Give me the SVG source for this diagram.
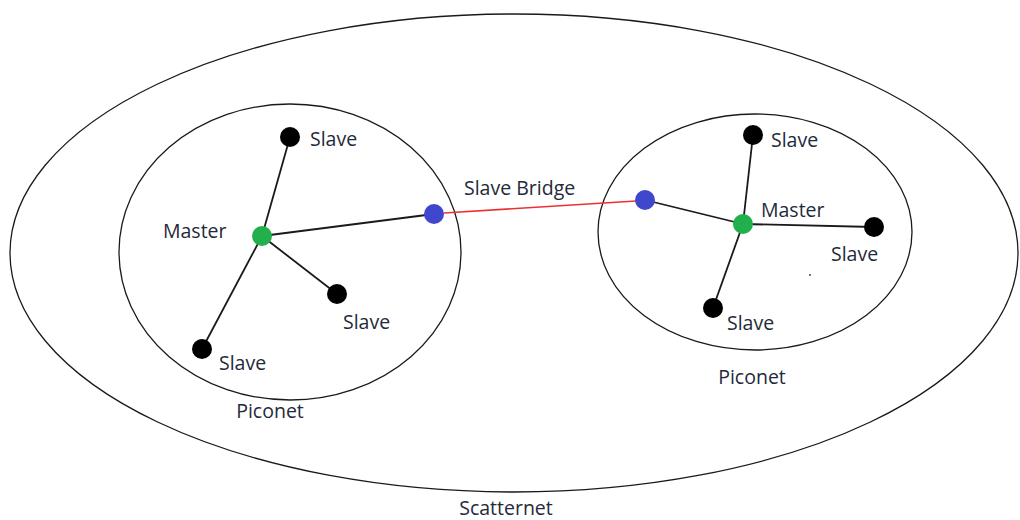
<svg xmlns="http://www.w3.org/2000/svg" width="1020" height="520" viewBox="0 0 1020 520">
<style>
.ring{fill:none;stroke:#1a1a1a;stroke-width:1.3}
.ln{stroke:#1a1a1a;stroke-width:1.8}
.br{stroke:#f03030;stroke-width:1.6}
.slave{fill:#000}
.master{fill:#22b04c}
.bridge{fill:#3f48cc}
text{font-family:"Open Sans","Liberation Sans",sans-serif;font-size:19.5px;fill:#1f2a3a}
</style>
<rect width="1020" height="520" fill="#fff"/>
<g id="scatternet">
<ellipse class="ring" cx="514" cy="253" rx="504" ry="239"/>
<text x="506" y="515" text-anchor="middle">Scatternet</text>
</g>
<g id="piconet-left">
<ellipse class="ring" cx="290" cy="252" rx="171" ry="148"/>
<text x="270" y="418" text-anchor="middle">Piconet</text>
</g>
<g id="piconet-right">
<ellipse class="ring" cx="755" cy="232" rx="157" ry="118"/>
<text x="752" y="384" text-anchor="middle">Piconet</text>
<circle cx="810" cy="275" r="0.9" fill="#333"/>
</g>
<g id="connectors">
<line class="ln" x1="262" y1="236" x2="290" y2="137"/>
<line class="ln" x1="262" y1="236" x2="434" y2="214"/>
<line class="ln" x1="262" y1="236" x2="337" y2="294"/>
<line class="ln" x1="262" y1="236" x2="202" y2="349"/>
<line class="br" x1="444" y1="213" x2="636" y2="201"/>
<line class="ln" x1="743" y1="224" x2="645" y2="200"/>
<line class="ln" x1="743" y1="224" x2="753" y2="135"/>
<line class="ln" x1="743" y1="224" x2="874" y2="227"/>
<line class="ln" x1="743" y1="224" x2="713" y2="308"/>
</g>
<g id="master-left"><circle class="master" cx="262" cy="236" r="10"/><text x="163" y="238">Master</text></g>
<g id="slave-left-top"><circle class="slave" cx="290" cy="137" r="10"/><text x="310" y="146">Slave</text></g>
<g id="slave-left-mid"><circle class="slave" cx="337" cy="294" r="10"/><text x="343" y="329">Slave</text></g>
<g id="slave-left-bottom"><circle class="slave" cx="202" cy="349" r="10"/><text x="219" y="370">Slave</text></g>
<g id="bridge-left"><circle class="bridge" cx="434" cy="214" r="10"/></g>
<g id="bridge-label"><text x="464" y="195">Slave Bridge</text></g>
<g id="bridge-right"><circle class="bridge" cx="645" cy="200" r="10"/></g>
<g id="master-right"><circle class="master" cx="743" cy="224" r="10"/><text x="761" y="217">Master</text></g>
<g id="slave-right-top"><circle class="slave" cx="753" cy="135" r="10"/><text x="771" y="147">Slave</text></g>
<g id="slave-right-side"><circle class="slave" cx="874" cy="227" r="10"/><text x="831" y="261">Slave</text></g>
<g id="slave-right-bottom"><circle class="slave" cx="713" cy="308" r="10"/><text x="727" y="330">Slave</text></g>
</svg>
